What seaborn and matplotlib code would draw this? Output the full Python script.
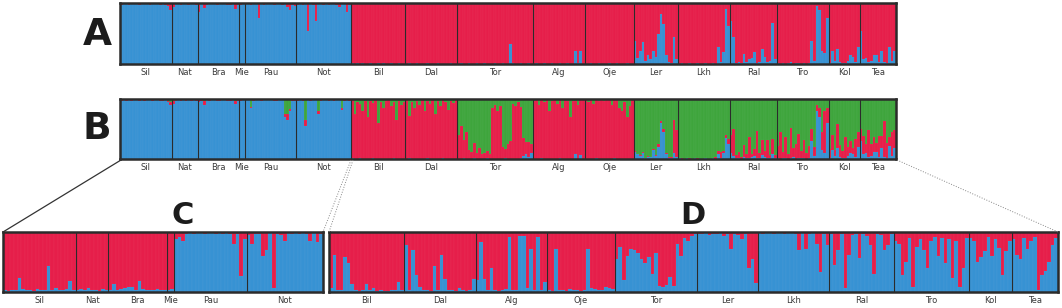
import numpy as np
import matplotlib.pyplot as plt
import seaborn as sns
from matplotlib.lines import Line2D

sns.set_style('white')
plt.rcParams['font.family'] = ['DejaVu Sans']

BLUE = '#3792d3'
RED = '#e61e4a'
GREEN = '#3ea53c'
EDGE = '#2b2b2b'

# populations and sample sizes per panel
pops_ab = ['Sil', 'Nat', 'Bra', 'Mie', 'Pau', 'Not', 'Bil', 'Dal', 'Tor', 'Alg',
           'Oje', 'Ler', 'Lkh', 'Ral', 'Tro', 'Kol', 'Tea']
n_ab = [20, 10, 16, 2, 20, 21, 21, 20, 29, 20, 19, 17, 20, 18, 20, 12, 14]
pops_c = ['Sil', 'Nat', 'Bra', 'Mie', 'Pau', 'Not']
n_c = [20, 9, 16, 2, 20, 21]
pops_d = ['Bil', 'Dal', 'Alg', 'Oje', 'Tor', 'Ler', 'Lkh', 'Ral', 'Tro', 'Kol', 'Tea']
n_d = [21, 20, 20, 19, 23, 17, 20, 18, 21, 12, 13]

# A (K=2): % membership in blue cluster, rest red
a_blue = [
    97, 99, 98, 96, 99, 98, 99, 97, 98, 99, 98, 97, 99, 98, 99, 97, 98, 96, 95, 88,   # Sil
    93, 98, 99, 97, 98, 99, 97, 98, 99, 97,                                           # Nat
    85, 98, 92, 97, 99, 98, 99, 97, 98, 99, 98, 97, 96, 99, 90, 97,                   # Bra
    97, 98,                                                                           # Mie
    98, 99, 97, 98, 99, 75, 98, 97, 99, 98, 99, 97, 98, 99, 96, 98, 94, 88, 97, 95,   # Pau
    97, 98, 96, 99, 54, 98, 97, 70, 98, 99, 97, 98, 96, 99, 98, 97, 93, 99, 98, 85, 97,  # Not
    1, 0, 2, 0, 1, 0, 0, 1, 0, 0, 2, 0, 1, 0, 0, 1, 0, 0, 1, 0, 0,                    # Bil
    0, 1, 0, 0, 1, 0, 0, 0, 1, 0, 0, 0, 1, 0, 0, 0, 0, 1, 0, 0,                       # Dal
    0, 1, 0, 0, 1, 0, 0, 1, 0, 0, 1, 0, 0, 0, 1, 0, 0, 1, 0, 0, 33, 1, 0, 0, 1, 0, 0, 1, 0,  # Tor
    0, 1, 0, 0, 1, 0, 0, 1, 0, 0, 1, 0, 0, 1, 0, 0, 22, 1, 21, 0,                     # Alg
    0, 0, 1, 0, 0, 1, 0, 0, 0, 1, 0, 0, 1, 0, 0, 0, 1, 0, 0,                          # Oje
    38, 10, 22, 36, 5, 15, 8, 22, 12, 50, 82, 65, 14, 3, 2, 45, 8,                    # Ler
    0, 1, 0, 0, 1, 0, 0, 1, 0, 0, 1, 0, 0, 1, 0, 28, 3, 20, 90, 62,                   # Lkh
    70, 45, 2, 3, 1, 17, 3, 8, 10, 20, 2, 4, 25, 12, 3, 5, 68, 8,                     # Ral
    1, 0, 2, 0, 1, 3, 0, 1, 2, 0, 1, 0, 2, 38, 5, 95, 88, 22, 18, 76,                 # Tro
    2, 22, 5, 24, 3, 1, 2, 5, 14, 12, 3, 28,                                          # Kol
    54, 8, 10, 3, 5, 15, 14, 3, 22, 4, 2, 28, 5, 22,                                  # Tea
]

# B (K=3): % blue and % red, rest green
b_blue = [
    97, 98, 96, 99, 97, 98, 99, 96, 98, 97, 99, 98, 97, 98, 99, 97, 96, 98, 95, 90,
    92, 97, 98, 96, 99, 97, 98, 97, 99, 96,
    95, 97, 90, 98, 97, 99, 98, 96, 97, 99, 98, 96, 97, 98, 92, 96,
    97, 98,
    98, 99, 85, 97, 99, 98, 97, 99, 98, 99, 98, 97, 96, 99, 98, 70, 65, 80, 97, 96,
    97, 98, 96, 55, 98, 97, 99, 98, 75, 97, 98, 99, 96, 98, 97, 99, 98, 82, 97, 98, 96,
    2, 0, 0, 1, 0, 0, 0, 0, 1, 0, 0, 0, 0, 0, 0, 0, 1, 0, 0, 0, 0,
    0, 1, 0, 0, 0, 0, 0, 0, 1, 0, 0, 0, 0, 0, 1, 0, 0, 0, 0, 0,
    0, 0, 1, 0, 0, 0, 1, 0, 0, 0, 0, 1, 0, 0, 0, 0, 0, 0, 1, 0, 0, 0, 0, 0, 1, 5, 8, 3, 10,
    0, 0, 0, 1, 0, 0, 0, 0, 0, 0, 1, 0, 0, 0, 0, 0, 8, 0, 6, 0,
    0, 0, 0, 0, 1, 0, 0, 0, 0, 0, 0, 1, 0, 0, 0, 0, 0, 0, 0,
    12, 8, 5, 10, 2, 4, 3, 15, 5, 20, 60, 45, 8, 2, 1, 10, 3,
    1, 0, 0, 1, 0, 0, 1, 0, 0, 0, 1, 0, 0, 1, 0, 8, 2, 10, 35, 25,
    10, 5, 1, 2, 0, 3, 1, 2, 3, 5, 1, 2, 6, 3, 1, 2, 8, 2,
    1, 0, 2, 1, 0, 1, 3, 0, 1, 2, 1, 0, 2, 30, 5, 80, 70, 15, 10, 60,
    2, 15, 5, 18, 3, 1, 2, 5, 10, 8, 3, 20,
    30, 8, 10, 3, 5, 12, 12, 3, 18, 4, 2, 22, 5, 18,
]
b_red = [
    2, 1, 2, 0, 1, 1, 0, 2, 1, 1, 0, 1, 2, 1, 0, 1, 2, 1, 2, 5,
    4, 2, 1, 2, 0, 2, 1, 2, 0, 2,
    3, 2, 6, 1, 2, 0, 1, 2, 1, 0, 1, 2, 2, 1, 5, 2,
    1, 1,
    1, 0, 2, 1, 0, 1, 1, 0, 1, 0, 1, 1, 2, 0, 1, 5, 10, 3, 1, 2,
    1, 1, 2, 10, 1, 1, 0, 1, 5, 1, 1, 0, 2, 1, 1, 0, 1, 3, 1, 1, 2,
    98, 75, 95, 90, 80, 97, 70, 96, 92, 98, 60, 95, 85, 97, 99, 88, 94, 65, 97, 90, 95,
    99, 70, 95, 85, 97, 90, 99, 80, 96, 92, 99, 75, 97, 88, 99, 95, 82, 97, 93, 99,
    40, 55, 30, 45, 15, 12, 25, 10, 18, 8, 10, 12, 9, 85, 90, 80, 88, 20, 15, 25, 30,
    92, 88, 95, 85, 30, 20, 25, 15,
    97, 99, 90, 98, 95, 99, 80, 97, 99, 92, 98, 85, 99, 96, 70, 97, 88, 90, 94, 98,
    99, 95, 98, 92, 98, 97, 99, 96, 98, 99, 90, 97, 99, 85, 80, 95, 70, 88, 99,
    2, 1, 1, 2, 0, 1, 0, 2, 1, 5, 3, 5, 2, 1, 3, 55, 45,
    0, 1, 0, 0, 1, 0, 0, 2, 0, 0, 1, 0, 0, 1, 3, 5, 10, 4, 5, 8,
    30, 45, 5, 10, 3, 20, 8, 35, 6, 12, 45, 8, 25, 10, 30, 5, 25, 5,
    20, 45, 10, 35, 8, 50, 15, 25, 40, 12, 30, 10, 20, 20, 15, 10, 15, 30, 70, 25,
    15, 25, 10, 40, 20, 12, 35, 15, 20, 10, 30, 25,
    20, 30, 15, 45, 20, 25, 15, 35, 20, 60, 25, 15, 40, 30,
]

# C (K=2, first six populations): % blue, rest red
c_blue = [
    3, 2, 4, 3, 23, 5, 3, 4, 2, 5, 3, 4, 44, 3, 6, 4, 3, 5, 18, 4,
    3, 5, 4, 6, 3, 4, 2, 5, 3,
    4, 14, 3, 5, 6, 8, 9, 4, 19, 5, 3, 4, 3, 5, 4, 3,
    4, 5,
    88, 92, 85, 97, 98, 97, 99, 98, 97, 99, 98, 96, 99, 97, 98, 96, 80, 97, 26, 88,
    95, 80, 97, 96, 60, 70, 98, 7, 97, 95, 85, 98, 97, 99, 96, 98, 97, 85, 98, 84, 96,
]

# D (K=2, remaining populations): % blue, rest red
d_blue = [
    6, 62, 4, 3, 58, 48, 14, 3, 2, 4, 14, 3, 6, 2, 3, 1, 2, 3, 4, 17, 3,
    78, 3, 70, 28, 8, 4, 3, 2, 44, 3, 62, 22, 4, 3, 2, 6, 3, 2, 4, 22,
    20, 83, 22, 3, 40, 4, 2, 3, 5, 92, 3, 4, 93, 93, 6, 72, 3, 92, 4, 16,
    3, 2, 72, 4, 3, 2, 5, 3, 4, 2, 3, 72, 6, 5, 3, 4, 8, 6, 5,
    55, 75, 20, 60, 72, 70, 65, 55, 48, 58, 30, 65, 10, 8, 12, 25, 10, 80, 60, 90, 85, 93, 97,
    97, 96, 98, 95, 97, 96, 98, 94, 96, 72, 97, 95, 88, 96, 40, 55, 15,
    98, 97, 99, 98, 97, 98, 99, 97, 98, 99, 97, 70, 98, 72, 97, 98, 80, 34, 97, 78,
    96, 45, 70, 97, 6, 62, 95, 97, 56, 96, 94, 78, 30, 96, 95, 70, 78, 97,
    85, 80, 28, 50, 90, 8, 75, 88, 70, 40, 85, 92, 60, 90, 48, 88, 23, 85, 8, 40, 90,
    90, 85, 50, 58, 68, 92, 60, 88, 73, 28, 68, 85,
    88, 62, 55, 90, 72, 85, 92, 3, 28, 35, 50, 78, 90,
]

W, H = 1062, 308


def box(x0, y0, x1, y1):
    return [x0 / W, 1 - y1 / H, (x1 - x0) / W, (y1 - y0) / H]


def structure_panel(ax, layers, colors, pops, sizes):
    n = len(layers[0])
    x = np.arange(n)
    # layers are cumulative heights, drawn from the tallest down
    for h, c in zip(layers, colors):
        sns.barplot(x=x, y=h, color=c, width=1, native_scale=True, saturation=1,
                    linewidth=0.3, edgecolor=(1, 1, 1, 0.07), errorbar=None, ax=ax)
    bounds = np.cumsum(sizes)
    for b in bounds[:-1]:
        ax.axvline(b - 0.5, color=EDGE, lw=0.8)
    centers = bounds - np.array(sizes) / 2 - 0.5
    ax.set_xticks(centers)
    ax.set_xticklabels(pops)
    ax.tick_params(axis='x', length=0, pad=3, labelsize=6, colors='#3a3a3a')
    ax.set_yticks([])
    ax.set_xlim(-0.5, n - 0.5)
    ax.set_ylim(0, 100)
    ax.set_xlabel('')
    ax.set_ylabel('')
    for s in ax.spines.values():
        s.set_visible(True)
        s.set_linewidth(1.8)
        s.set_color(EDGE)


fig = plt.figure(figsize=(W / 100, H / 100), dpi=100)

a_blue = np.array(a_blue)
b_blue = np.array(b_blue)
b_red = np.array(b_red)
c_blue = np.array(c_blue)
d_blue = np.array(d_blue)

axA = fig.add_axes(box(120, 3, 896, 64))
structure_panel(axA, [np.full_like(a_blue, 100), a_blue], [RED, BLUE], pops_ab, n_ab)

axB = fig.add_axes(box(120, 99, 896, 159))
structure_panel(axB, [np.full_like(b_blue, 100), b_blue + b_red, b_blue],
                [GREEN, RED, BLUE], pops_ab, n_ab)

axC = fig.add_axes(box(3, 232, 323, 292))
structure_panel(axC, [np.full_like(c_blue, 100), c_blue], [RED, BLUE], pops_c, n_c)

axD = fig.add_axes(box(329, 232, 1058, 292))
structure_panel(axD, [np.full_like(d_blue, 100), d_blue], [RED, BLUE], pops_d, n_d)

# panel letters
for lab, px, py, fs in [('A', 97, 35, 27), ('B', 97, 129, 27), ('C', 183, 216, 22), ('D', 693, 216, 22)]:
    fig.text(px / W, 1 - py / H, lab, ha='center', va='center', fontsize=fs,
             fontweight='bold', color='#1c1c1c')


# zoom connector lines between B and C / D
def connector(p0, p1, **kw):
    fig.add_artist(Line2D([p0[0] / W, p1[0] / W], [1 - p0[1] / H, 1 - p1[1] / H],
                          transform=fig.transFigure, **kw))


connector((121, 160), (3, 232), color='#333333', lw=0.9)
connector((351, 160), (323, 232), color='#888888', lw=0.7, ls=':')
connector((353, 160), (329, 232), color='#888888', lw=0.7, ls=':')
connector((897, 160), (1058, 232), color='#888888', lw=0.7, ls=':')

fig.savefig('out.png', dpi=100)
